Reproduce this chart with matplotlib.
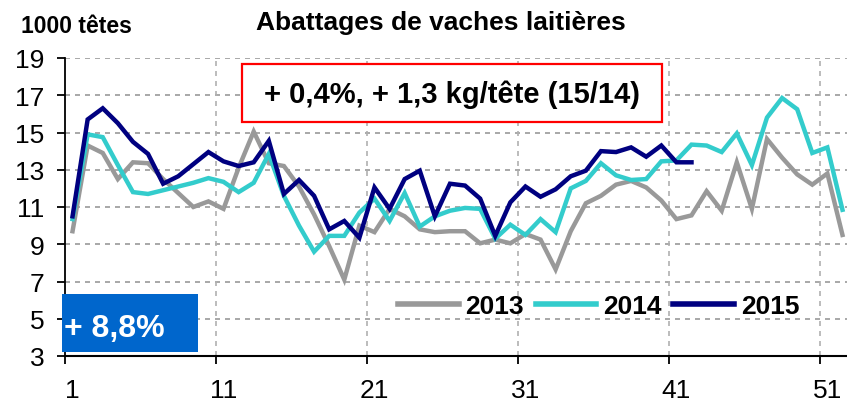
import matplotlib
matplotlib.use('Agg')
import matplotlib.pyplot as plt
from matplotlib.patches import Rectangle

plt.rcParams['font.family'] = ['Liberation Sans', 'DejaVu Sans']

W, H = 847, 406

# semaines
weeks = list(range(1, 53))
y2013 = [9.7, 14.3, 13.9, 12.5, 13.4, 13.35, 12.5, 11.75, 11.0, 11.3,
         10.9, 13.1, 15.05, 13.35, 13.2, 12.1, 10.6, 8.9, 7.1, 10.0,
         9.65, 10.9, 10.5, 9.8, 9.65, 9.7, 9.7, 9.05, 9.25, 9.05,
         9.55, 9.25, 7.65, 9.7, 11.2, 11.6, 12.2, 12.4, 12.05, 11.35,
         10.35, 10.55, 11.85, 10.8, 13.4, 10.9, 14.65, 13.65, 12.75, 12.2,
         12.8, 9.5]
y2014 = [10.35, 14.9, 14.75, 13.25, 11.8, 11.7, 11.9, 12.1, 12.3, 12.55,
         12.35, 11.8, 12.3, 13.85, 11.6, 10.0, 8.6, 9.45, 9.45, 10.7,
         11.45, 10.25, 11.75, 9.95, 10.5, 10.8, 10.95, 10.9, 9.3, 10.05,
         9.5, 10.35, 9.65, 12.0, 12.4, 13.35, 12.7, 12.45, 12.5, 13.45,
         13.5, 14.35, 14.3, 13.95, 14.95, 13.25, 15.8, 16.85, 16.25, 13.9,
         14.2, 10.85]
y2015 = [10.5, 15.7, 16.3, 15.5, 14.5, 13.85, 12.25, 12.65, 13.3, 13.95,
         13.45, 13.2, 13.4, 14.55, 11.7, 12.45, 11.6, 9.8, 10.25, 9.35,
         12.05, 10.9, 12.5, 12.95, 10.5, 12.25, 12.15, 11.45, 9.45, 11.25,
         12.1, 11.55, 11.95, 12.65, 12.95, 14.0, 13.95, 14.2, 13.7, 14.3,
         13.4, 13.4]

years = ['2013', '2014', '2015']
colors = ['#999999', '#33CCCC', '#000080']
xlabels = [1, 11, 21, 31, 41, 51]
yticks = [3, 5, 7, 9, 11, 13, 15, 17, 19]


def fx(px):
    return px / W


def fy(py):
    return 1 - py / H


fig = plt.figure(figsize=(W / 100, H / 100), dpi=100)
ax = fig.add_axes([fx(65), fy(357), 1 - fx(65), fy(59) - fy(357)])

for ys, c, lab in zip([y2013, y2014, y2015], colors, years):
    ax.plot(weeks[:len(ys)], ys, color=c, lw=3.2, label=lab,
            solid_joinstyle='miter', zorder=3)

ax.set_xlim(0.5, 52.3)
ax.set_ylim(3, 19)
ax.set_yticks(yticks)
ax.set_yticklabels([str(t) for t in yticks], fontsize=19)
ax.tick_params(axis='y', length=6, width=1.3, pad=9)

# ticks between categories, labels centred on categories
ax.set_xticks([0.5, 10.5, 20.5, 30.5, 40.5, 50.5])
ax.set_xticklabels([])
ax.tick_params(axis='x', which='major', length=6, width=1.3)
ax.set_xticks(xlabels, minor=True)
ax.set_xticklabels([str(v) for v in xlabels], minor=True, fontsize=19)
ax.tick_params(axis='x', which='minor', length=0, pad=16)

for s in ['top', 'right']:
    ax.spines[s].set_visible(False)
ax.spines['left'].set_linewidth(1.3)
ax.spines['bottom'].set_linewidth(1.5)

for y in yticks[1:]:
    ax.axhline(y, color='#999999', lw=1.2, ls=(0, (3, 3)), zorder=1)
for x in [10.5, 20.5, 30.5, 40.5, 50.5]:
    ax.axvline(x, color='#b0b0b0', lw=1.2, ls=(0, (3, 3)), zorder=1)

leg = ax.legend(loc='center left', bbox_to_anchor=(fx(398), fy(307)),
                bbox_transform=fig.transFigure, ncol=3, frameon=False,
                borderpad=0, borderaxespad=0, handlelength=2.3,
                handletextpad=0.25, columnspacing=0.45,
                prop={'size': 19, 'weight': 'bold'})
for l in leg.get_lines():
    l.set_linewidth(4)

fig.text(fx(441), fy(30), 'Abattages de vaches laitières', fontsize=19,
         fontweight='bold', ha='center', va='baseline')
fig.text(fx(21), fy(33), '1000 têtes', fontsize=16.5, fontweight='bold',
         ha='left', va='baseline')

# encadré rouge
fig.patches.append(Rectangle((fx(242), fy(123)), fx(420), 58 / H,
                             transform=fig.transFigure, facecolor='white',
                             edgecolor='#FF0000', lw=1.6, zorder=5))
fig.text(fx(452), fy(103), '+ 0,4%, + 1,3 kg/tête (15/14)', fontsize=21,
         fontweight='bold', ha='center', va='baseline', zorder=6)

# encadré bleu
fig.patches.append(Rectangle((fx(62), fy(353)), fx(136), 58 / H,
                             transform=fig.transFigure, facecolor='#0066CC',
                             edgecolor='none', zorder=5))
fig.text(fx(64), fy(337), '+ 8,8%', fontsize=23, fontweight='bold',
         color='white', ha='left', va='baseline', zorder=6)

fig.savefig('out.png', dpi=100)
